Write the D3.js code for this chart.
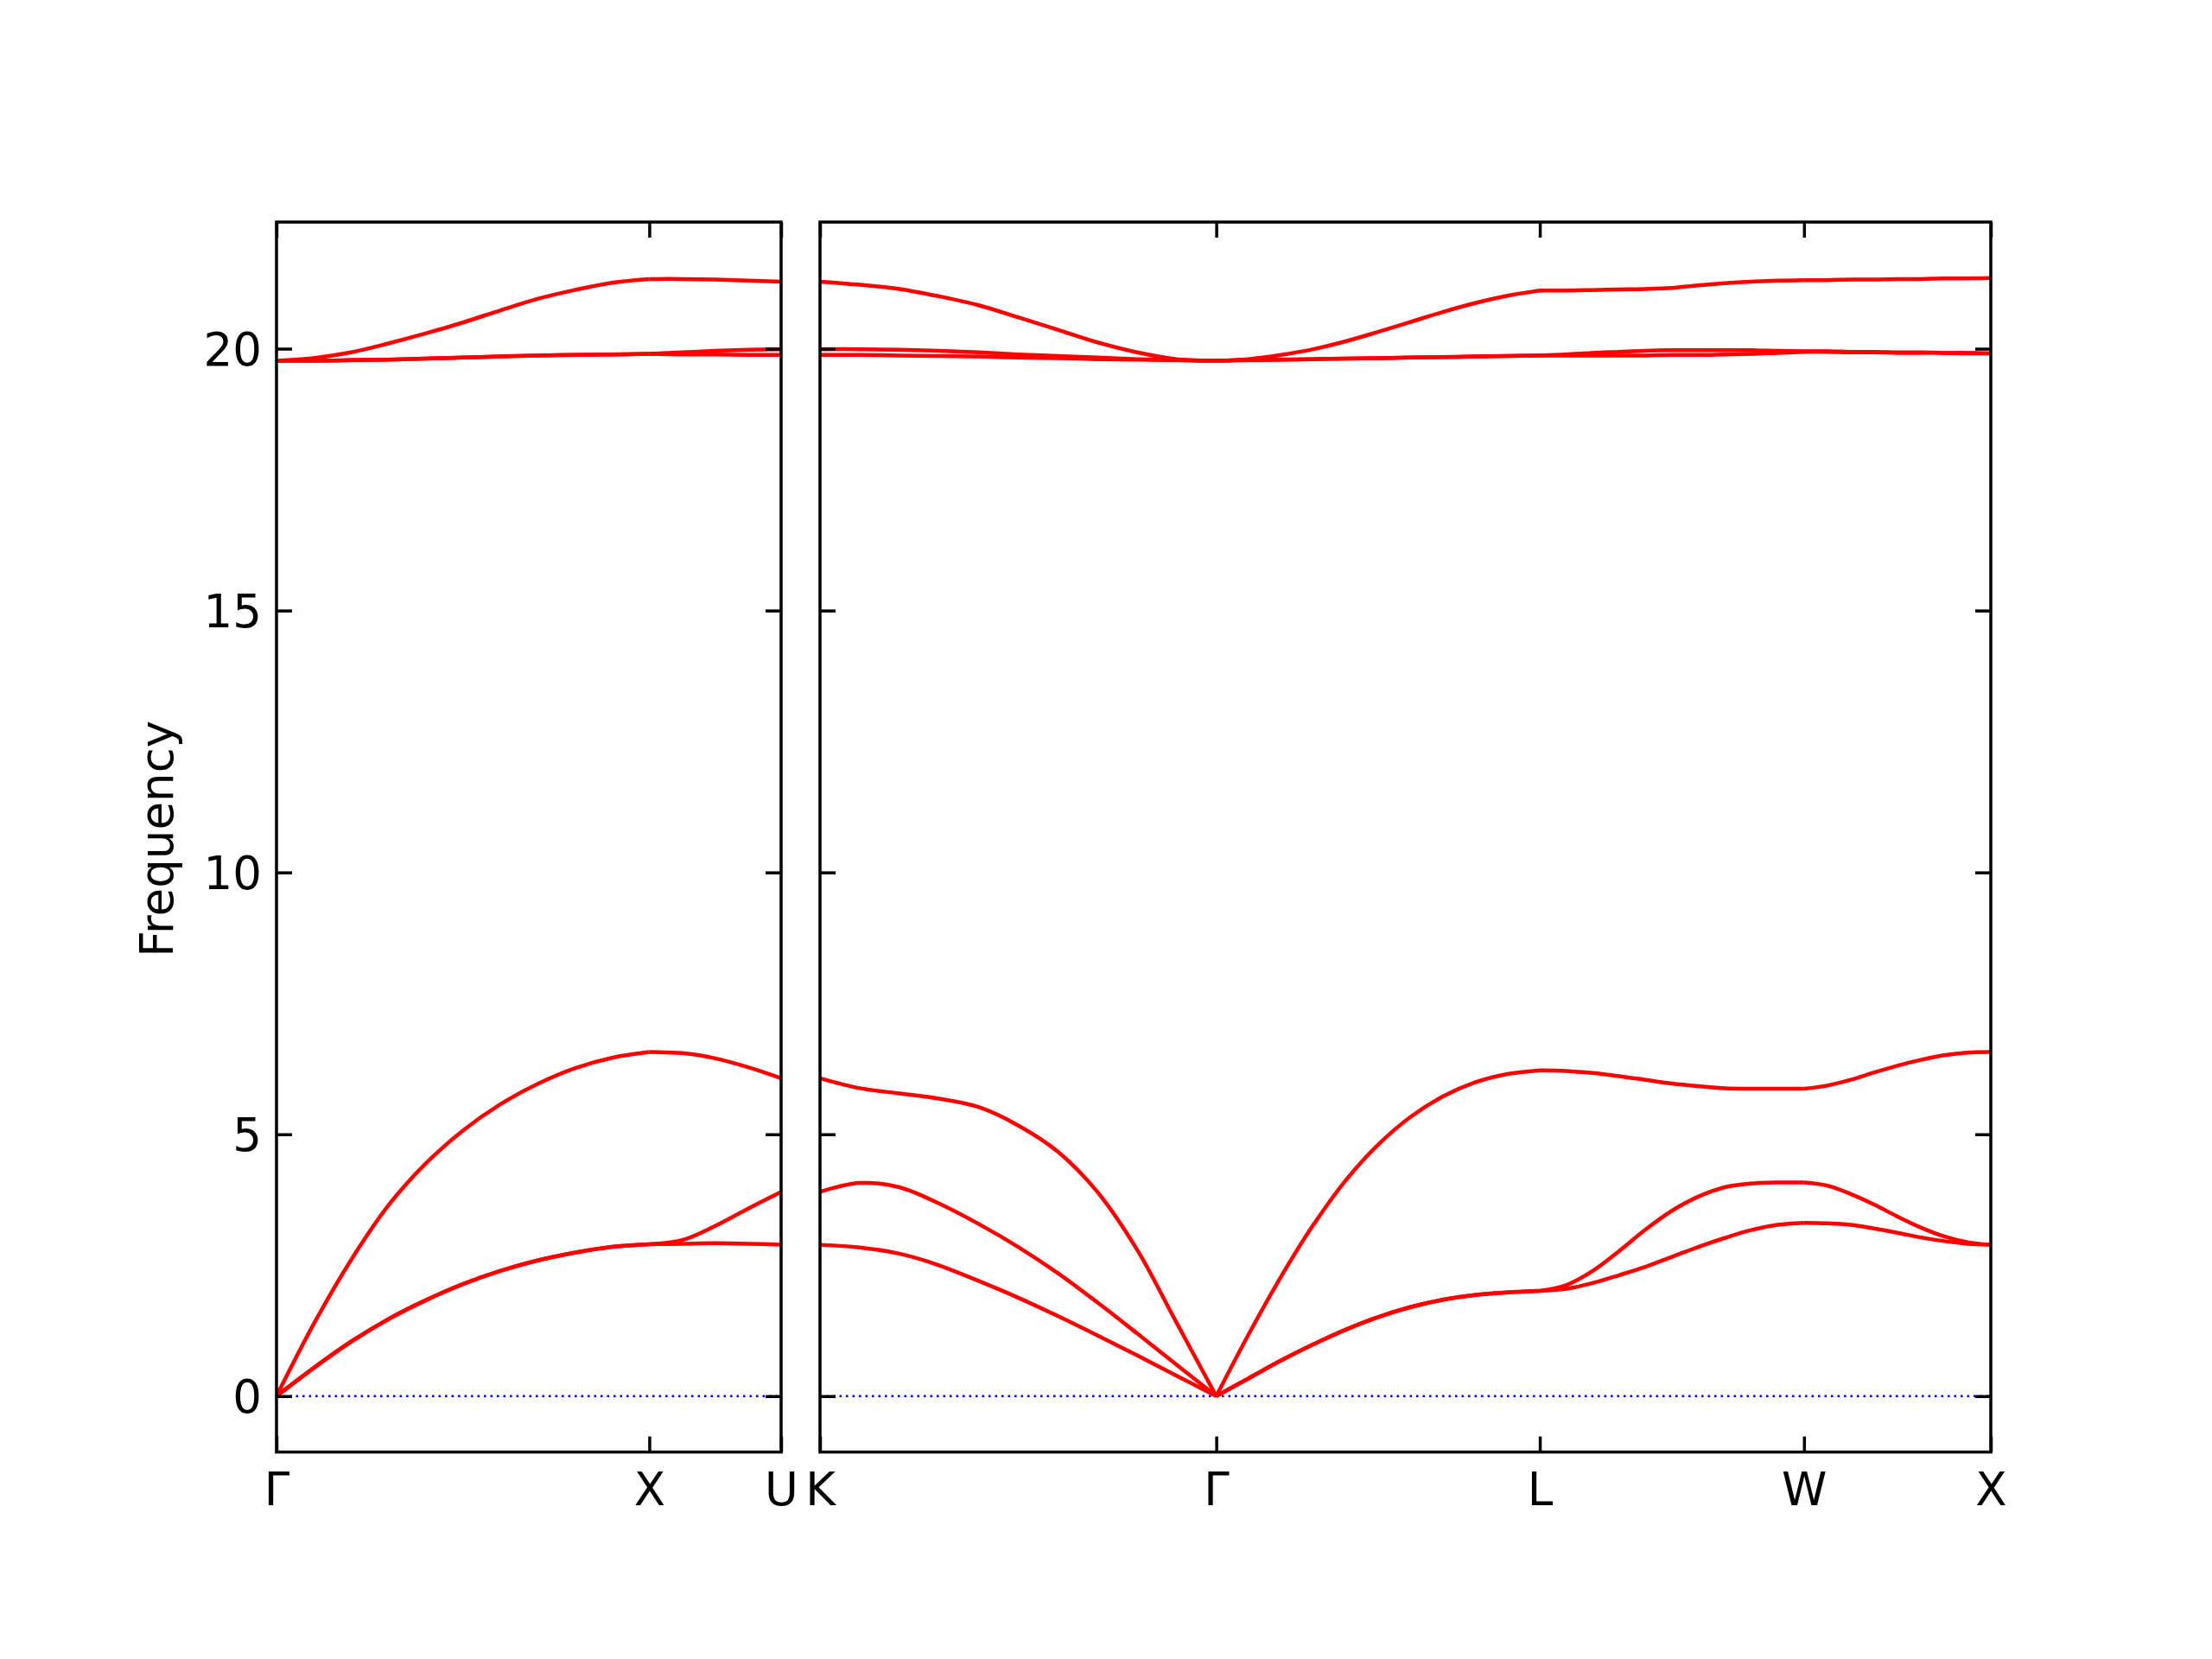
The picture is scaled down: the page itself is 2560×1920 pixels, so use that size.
<!DOCTYPE html>
<html>
<head>
<meta charset="utf-8">
<script src="https://cdn.jsdelivr.net/npm/d3@7"></script>
<style>
  html, body { margin: 0; padding: 0; background: #ffffff; }
  svg { display: block; }
  text { font-family: "DejaVu Sans", sans-serif; }
</style>
</head>
<body>
<script>
// ---------------- DATA ----------------
const yTicks = [0, 5, 10, 15, 20];
const yLabel = "Frequency";

// Panel 1 path: Γ - X - U
const panel1Labels = ["Γ", "X", "U"];
const panel1SegLengths = [1.0, 0.3536];
// Panel 2 path: K - Γ - L - W - X
const panel2Labels = ["K", "Γ", "L", "W", "X"];
const panel2SegLengths = [1.0607, 0.8660, 0.7071, 0.5];

// Segment Γ-X (fraction along segment, then six bands)
const tGX = [0, 0.1, 0.2, 0.3, 0.4, 0.5, 0.6, 0.7, 0.8, 0.9, 1.0];
const bandsGX = [
  [0, 0.54, 1.04, 1.47, 1.83, 2.14, 2.39, 2.59, 2.74, 2.85, 2.90],
  [0, 0.54, 1.04, 1.47, 1.83, 2.14, 2.39, 2.59, 2.74, 2.85, 2.90],
  [0, 1.38, 2.60, 3.64, 4.44, 5.07, 5.57, 5.96, 6.26, 6.46, 6.57],
  [19.77, 19.77, 19.78, 19.79, 19.81, 19.83, 19.85, 19.87, 19.88, 19.89, 19.90],
  [19.77, 19.77, 19.78, 19.79, 19.81, 19.83, 19.85, 19.87, 19.88, 19.89, 19.90],
  [19.77, 19.82, 19.93, 20.10, 20.29, 20.50, 20.73, 20.95, 21.12, 21.26, 21.33]
];

// Segment X-U
const tXU = [0, 0.25, 0.5, 0.75, 1.0];
const bandsXU = [
  [2.90, 2.91, 2.92, 2.91, 2.89],
  [2.90, 2.98, 3.25, 3.58, 3.90],
  [6.57, 6.55, 6.45, 6.28, 6.07],
  [19.90, 19.89, 19.89, 19.88, 19.88],
  [19.90, 19.93, 19.96, 19.98, 19.99],
  [21.33, 21.33, 21.32, 21.30, 21.28]
];

// Segment K-Γ
const tKG = [0, 0.1, 0.2, 0.3, 0.4, 0.5, 0.6, 0.7, 0.8, 0.9, 1.0];
const bandsKG = [
  [2.89, 2.84, 2.72, 2.50, 2.20, 1.88, 1.53, 1.16, 0.78, 0.39, 0],
  [3.90, 4.07, 3.99, 3.68, 3.29, 2.85, 2.35, 1.79, 1.20, 0.60, 0],
  [6.07, 5.88, 5.78, 5.68, 5.52, 5.17, 4.67, 3.90, 2.80, 1.40, 0],
  [19.88, 19.88, 19.87, 19.86, 19.85, 19.83, 19.82, 19.80, 19.79, 19.78, 19.77],
  [19.99, 19.99, 19.98, 19.96, 19.93, 19.89, 19.86, 19.83, 19.80, 19.78, 19.77],
  [21.28, 21.22, 21.14, 21.00, 20.83, 20.60, 20.36, 20.12, 19.93, 19.80, 19.77]
];

// Segment Γ-L
const tGL = [0, 0.1, 0.2, 0.3, 0.4, 0.5, 0.6, 0.7, 0.8, 0.9, 1.0];
const bandsGL = [
  [0, 0.34, 0.68, 0.99, 1.27, 1.51, 1.70, 1.84, 1.93, 1.98, 2.01],
  [0, 0.34, 0.68, 0.99, 1.27, 1.51, 1.70, 1.84, 1.93, 1.98, 2.01],
  [0, 1.18, 2.28, 3.27, 4.12, 4.80, 5.33, 5.72, 5.99, 6.15, 6.22],
  [19.77, 19.78, 19.79, 19.80, 19.81, 19.82, 19.83, 19.84, 19.85, 19.86, 19.87],
  [19.77, 19.78, 19.79, 19.80, 19.81, 19.82, 19.83, 19.84, 19.85, 19.86, 19.87],
  [19.77, 19.80, 19.88, 19.99, 20.14, 20.32, 20.51, 20.70, 20.87, 21.01, 21.11]
];

// Segment L-W
const tLW = [0, 0.1, 0.2, 0.3, 0.4, 0.5, 0.6, 0.7, 0.8, 0.9, 1.0];
const bandsLW = [
  [2.01, 2.05, 2.16, 2.31, 2.47, 2.66, 2.85, 3.02, 3.17, 3.27, 3.31],
  [2.01, 2.12, 2.39, 2.77, 3.18, 3.54, 3.81, 3.99, 4.06, 4.08, 4.08],
  [6.22, 6.21, 6.17, 6.11, 6.04, 5.97, 5.92, 5.88, 5.87, 5.87, 5.87],
  [19.87, 19.87, 19.87, 19.87, 19.87, 19.88, 19.88, 19.89, 19.90, 19.92, 19.94],
  [19.87, 19.89, 19.92, 19.94, 19.96, 19.97, 19.97, 19.97, 19.97, 19.96, 19.95],
  [21.11, 21.11, 21.12, 21.13, 21.14, 21.16, 21.21, 21.25, 21.28, 21.30, 21.31]
];

// Segment W-X
const tWX = [0, 0.125, 0.25, 0.375, 0.5, 0.625, 0.75, 0.875, 1.0];
const bandsWX = [
  [3.31, 3.30, 3.27, 3.20, 3.12, 3.03, 2.96, 2.91, 2.89],
  [4.08, 4.02, 3.86, 3.66, 3.43, 3.22, 3.05, 2.94, 2.89],
  [5.87, 5.93, 6.04, 6.18, 6.31, 6.42, 6.51, 6.56, 6.57],
  [19.94, 19.94, 19.93, 19.93, 19.92, 19.92, 19.92, 19.91, 19.91],
  [19.95, 19.95, 19.94, 19.94, 19.93, 19.93, 19.92, 19.92, 19.91],
  [21.31, 21.31, 21.32, 21.32, 21.33, 21.33, 21.34, 21.34, 21.35]
];

// ---------------- LAYOUT ----------------
const W = 2560, H = 1920;
const plotTop = 257, plotBottom = 1680.5;
const fontSize = 53;
const tickLen = 18;
const frameW = 3.5;

const panels = [
  { x0: 320, x1: 904, labels: panel1Labels, segLengths: panel1SegLengths,
    segments: [{ t: tGX, bands: bandsGX }, { t: tXU, bands: bandsXU }], yLabels: true },
  { x0: 949, x1: 2304, labels: panel2Labels, segLengths: panel2SegLengths,
    segments: [{ t: tKG, bands: bandsKG }, { t: tGL, bands: bandsGL },
               { t: tLW, bands: bandsLW }, { t: tWX, bands: bandsWX }], yLabels: false }
];

// y domain with matplotlib-like 5% margins around data
const allVals = [bandsGX, bandsXU, bandsKG, bandsGL, bandsLW, bandsWX].flat(2);
const dMin = d3.min(allVals), dMax = d3.max(allVals);
const margin = (dMax - dMin) * 0.05;
const y = d3.scaleLinear().domain([dMin - margin, dMax + margin]).range([plotBottom, plotTop]);

const svg = d3.select("body").append("svg")
  .attr("width", W).attr("height", H)
  .attr("viewBox", `0 0 ${W} ${H}`);
svg.append("rect").attr("width", W).attr("height", H).attr("fill", "#ffffff");

panels.forEach(p => {
  const cum = [0];
  p.segLengths.forEach(l => cum.push(cum[cum.length - 1] + l));
  const total = cum[cum.length - 1];
  const x = d3.scaleLinear().domain([0, total]).range([p.x0, p.x1]);
  const g = svg.append("g");

  // zero line
  g.append("line")
    .attr("x1", x(0)).attr("x2", x(total))
    .attr("y1", y(0)).attr("y2", y(0))
    .attr("stroke", "#0000ff").attr("stroke-width", 2.6)
    .attr("stroke-dasharray", "2.6,4.9");

  // bands
  const line = d3.line().x(d => x(d[0])).y(d => y(d[1])).curve(d3.curveCatmullRom.alpha(0.5));
  p.segments.forEach((seg, si) => {
    seg.bands.forEach(band => {
      const pts = band.map((v, i) => [cum[si] + seg.t[i] * p.segLengths[si], v]);
      g.append("path").attr("d", line(pts))
        .attr("fill", "none").attr("stroke", "#ff0000")
        .attr("stroke-width", 4.5).attr("stroke-linejoin", "round");
    });
  });

  // axes (inward ticks)
  const left = d3.axisLeft(y).tickValues(yTicks).tickSize(-tickLen).tickSizeOuter(0).tickPadding(17);
  if (!p.yLabels) left.tickFormat("");
  const right = d3.axisRight(y).tickValues(yTicks).tickSize(-tickLen).tickSizeOuter(0).tickFormat("");
  const xt = d3.axisTop(x).tickValues(cum).tickSize(-tickLen).tickSizeOuter(0).tickFormat("");
  const xb = d3.axisBottom(x).tickValues(cum).tickSize(-tickLen).tickSizeOuter(0)
    .tickFormat((d, i) => p.labels[i]);

  const axL = g.append("g").attr("transform", `translate(${p.x0},0)`).call(left);
  const axR = g.append("g").attr("transform", `translate(${p.x1},0)`).call(right);
  const axT = g.append("g").attr("transform", `translate(0,${plotTop})`).call(xt);
  const axB = g.append("g").attr("transform", `translate(0,${plotBottom})`).call(xb);

  [axL, axR, axT, axB].forEach(a => {
    a.select(".domain").remove();
    a.selectAll(".tick line").attr("stroke", "#000").attr("stroke-width", frameW);
    a.selectAll(".tick text").attr("fill", "#000").attr("font-size", fontSize)
      .attr("font-family", "DejaVu Sans");
  });
  axL.selectAll(".tick text").attr("dy", "0.36em");
  axB.selectAll(".tick text").attr("y", 61.5).attr("dy", 0);

  // frame
  g.append("rect")
    .attr("x", p.x0).attr("y", plotTop)
    .attr("width", p.x1 - p.x0).attr("height", plotBottom - plotTop)
    .attr("fill", "none").attr("stroke", "#000").attr("stroke-width", frameW);
});

// y-axis label
svg.append("text")
  .attr("transform", `translate(200,${(plotTop + plotBottom) / 2 + 2}) rotate(-90)`)
  .attr("text-anchor", "middle")
  .attr("font-size", fontSize)
  .attr("fill", "#000")
  .text(yLabel);
</script>
</body>
</html>
